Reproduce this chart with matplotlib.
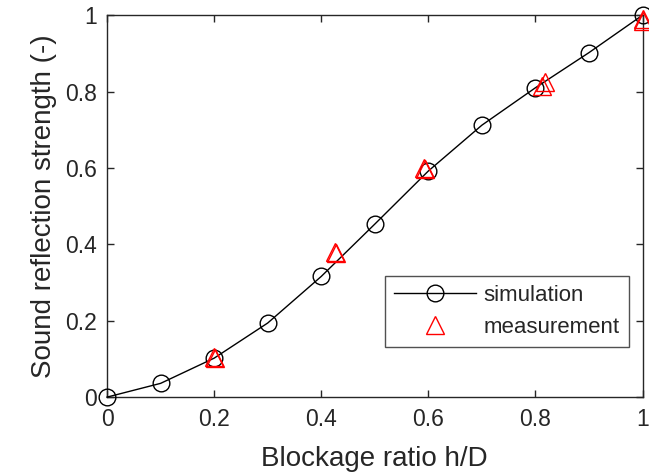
import matplotlib
matplotlib.use("Agg")
import matplotlib.pyplot as plt

plt.rcParams['font.family'] = ['Liberation Sans', 'DejaVu Sans']

# Data
sim_x = [0, 0.1, 0.2, 0.3, 0.4, 0.5, 0.6, 0.7, 0.8, 0.9, 1.0]
sim_y = [0, 0.036, 0.102, 0.194, 0.316, 0.453, 0.592, 0.712, 0.810, 0.902, 1.0]
meas_x = [0.199, 0.426, 0.592, 0.812, 1.0, 0.201, 0.428, 0.594, 0.818, 1.0]
meas_y = [0.105, 0.381, 0.601, 0.815, 0.99, 0.103, 0.377, 0.597, 0.826, 0.985]
xticks = [0, 0.2, 0.4, 0.6, 0.8, 1]
yticks = [0, 0.2, 0.4, 0.6, 0.8, 1]
xtick_labels = ['0', '0.2', '0.4', '0.6', '0.8', '1']
ytick_labels = ['0', '0.2', '0.4', '0.6', '0.8', '1']

fig = plt.figure(figsize=(6.49, 4.75), dpi=100)
ax = fig.add_axes([0.165, 0.164, 0.825, 0.804])

ax.plot(sim_x, sim_y, color='black', linewidth=1.0, marker='o', markersize=12,
        markerfacecolor='none', markeredgecolor='black', markeredgewidth=1.0,
        label='simulation', clip_on=False, zorder=3)
ax.plot(meas_x, meas_y, linestyle='none', marker='^', markersize=13,
        markerfacecolor='none', markeredgecolor='red', markeredgewidth=1.0,
        label='measurement', clip_on=False, zorder=4)

ax.set_xlim(0, 1)
ax.set_ylim(0, 1)
ax.set_xticks(xticks)
ax.set_xticklabels(xtick_labels)
ax.set_yticks(yticks)
ax.set_yticklabels(ytick_labels)

ax.tick_params(direction='in', length=5, width=1.0, top=True, right=True,
               labelsize=16.5, colors='#262626')
ax.tick_params(axis='x', pad=8)
ax.tick_params(axis='y', pad=7)
for s in ax.spines.values():
    s.set_color('#262626')
    s.set_linewidth(1.0)

ax.set_xlabel('Blockage ratio h/D', fontsize=20, color='#262626', labelpad=11)
ax.set_ylabel('Sound reflection strength (-)', fontsize=20, color='#262626', labelpad=6)

leg = ax.legend(loc='lower right', bbox_to_anchor=(0.974, 0.131), fontsize=16,
                frameon=True, fancybox=False, edgecolor='#262626',
                handlelength=3.7, handletextpad=0.35, borderpad=0.4,
                labelspacing=0.5, borderaxespad=0)
leg.get_frame().set_linewidth(1.0)
for t in leg.get_texts():
    t.set_color('#262626')

fig.savefig('out.png', dpi=100)
